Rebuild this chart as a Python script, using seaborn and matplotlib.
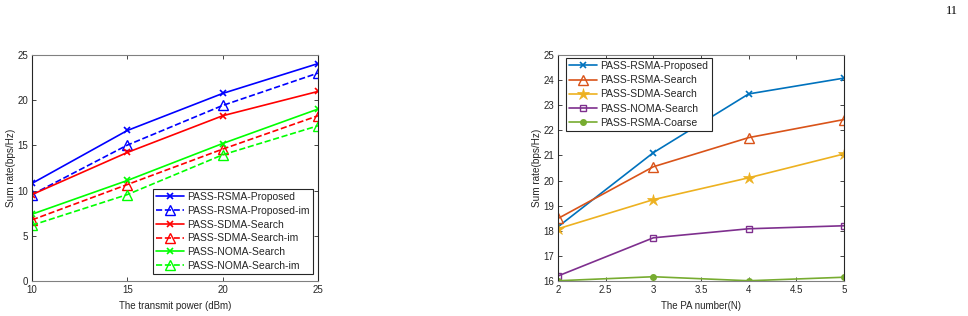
import matplotlib
matplotlib.use("Agg")
import matplotlib.pyplot as plt
import seaborn as sns
import pandas as pd

# ---- data: left panel ----
power = [10, 15, 20, 25]
rsma_prop = [10.8, 16.65, 20.75, 24.05]
rsma_prop_im = [9.56, 15.03, 19.42, 23.0]
sdma_search = [9.56, 14.22, 18.28, 20.97]
sdma_search_im = [6.76, 10.67, 14.59, 18.28]
noma_search = [7.39, 11.12, 15.21, 19.02]
noma_search_im = [6.17, 9.56, 13.96, 17.17]

# ---- data: right panel ----
pa_num = [2, 3, 4, 5]
r_rsma_prop = [18.16, 21.11, 23.45, 24.08]
r_rsma_search = [18.49, 20.55, 21.71, 22.43]
r_sdma_search = [18.08, 19.24, 20.11, 21.06]
r_noma_search = [16.20, 17.72, 18.08, 18.20]
r_rsma_coarse = [16.01, 16.17, 16.01, 16.15]

sns.set_theme(style="white")
plt.rcParams['font.family'] = ['Liberation Sans', 'DejaVu Sans']
plt.rcParams['axes.linewidth'] = 0.8

fig = plt.figure(figsize=(9.68, 3.16), dpi=100)
axL = fig.add_axes([32/968, 35/316, 286/968, 226/316])
axR = fig.add_axes([558/968, 35/316, 286/968, 226/316])

left_series = [
    ("PASS-RSMA-Proposed", rsma_prop, "#0000FF", "x", "-"),
    ("PASS-RSMA-Proposed-im", rsma_prop_im, "#0000FF", "^", "--"),
    ("PASS-SDMA-Search", sdma_search, "#FF0000", "x", "-"),
    ("PASS-SDMA-Search-im", sdma_search_im, "#FF0000", "^", "--"),
    ("PASS-NOMA-Search", noma_search, "#00FF00", "x", "-"),
    ("PASS-NOMA-Search-im", noma_search_im, "#00FF00", "^", "--"),
]
for name, vals, col, mk, ls in left_series:
    df = pd.DataFrame({"x": power, "y": vals})
    kw = dict(marker=mk, color=col, linestyle=ls, linewidth=1.2, label=name)
    if mk == "^":
        kw.update(markersize=7.5, markerfacecolor="none", markeredgecolor=col, markeredgewidth=1.0)
    else:
        kw.update(markersize=4, markeredgecolor=col, markeredgewidth=1.2)
    sns.lineplot(data=df, x="x", y="y", ax=axL, **kw)

right_series = [
    ("PASS-RSMA-Proposed", r_rsma_prop, "#0072BD", "x", dict(markersize=4, markeredgewidth=1.2)),
    ("PASS-RSMA-Search", r_rsma_search, "#D95319", "^", dict(markersize=7.5, markerfacecolor="none", markeredgewidth=1.0)),
    ("PASS-SDMA-Search", r_sdma_search, "#EDB120", "*", dict(markersize=9, markeredgewidth=0.5)),
    ("PASS-NOMA-Search", r_noma_search, "#7E2F8E", "s", dict(markersize=4.5, markerfacecolor="none", markeredgewidth=1.0)),
    ("PASS-RSMA-Coarse", r_rsma_coarse, "#77AC30", "o", dict(markersize=4, markeredgewidth=1.0)),
]
for name, vals, col, mk, extra in right_series:
    df = pd.DataFrame({"x": pa_num, "y": vals})
    sns.lineplot(data=df, x="x", y="y", ax=axR, marker=mk, color=col,
                 markeredgecolor=col, linewidth=1.2, label=name, **extra)

tc = "#262626"
for ax in (axL, axR):
    ax.tick_params(direction="in", length=3, width=0.6, colors=tc, labelsize=7,
                   top=True, right=True, bottom=True, left=True, pad=3)
    for s in ("left", "right"):
        ax.spines[s].set_color("#262626")
    for s in ("top", "bottom"):
        ax.spines[s].set_color("#808080")
    for s in ax.spines.values():
        s.set_linewidth(0.8)

axL.set_xlim(10, 25)
axL.set_ylim(0, 25)
axL.set_xticks([10, 15, 20, 25])
axL.set_yticks([0, 5, 10, 15, 20, 25])
axL.set_xlabel("The transmit power (dBm)", fontsize=7, color=tc, labelpad=4)
axL.set_ylabel("Sum rate(bps/Hz)", fontsize=7.2, color=tc, labelpad=1)

axR.set_xlim(2, 5)
axR.set_ylim(16, 25)
axR.set_xticks([2, 2.5, 3, 3.5, 4, 4.5, 5])
axR.set_xticklabels(["2", "2.5", "3", "3.5", "4", "4.5", "5"])
axR.set_yticks(list(range(16, 26)))
axR.set_xlabel("The PA number(N)", fontsize=7, color=tc, labelpad=4)
axR.set_ylabel("Sum rate(bps/Hz)", fontsize=7.2, color=tc, labelpad=1)

legL = axL.legend(loc="lower right", bbox_to_anchor=(0.9825, 0.031), fontsize=7.5,
                  frameon=True, fancybox=False, edgecolor="#262626", framealpha=1,
                  handlelength=2.7, handletextpad=0.3, labelspacing=0.36,
                  borderpad=0.3, borderaxespad=0)
legL.get_frame().set_linewidth(0.8)
legR = axR.legend(loc="upper left", bbox_to_anchor=(0.028, 0.987), fontsize=7.5,
                  frameon=True, fancybox=False, edgecolor="#262626", framealpha=1,
                  handlelength=2.7, handletextpad=0.3, labelspacing=0.4,
                  borderpad=0.3, borderaxespad=0)
legR.get_frame().set_linewidth(0.8)

fig.text(952/968, 1 - 11/316, "11", fontsize=9, family=["Liberation Serif", "DejaVu Serif"],
         ha="center", va="center", color="black")

fig.savefig("out.png", dpi=100)
